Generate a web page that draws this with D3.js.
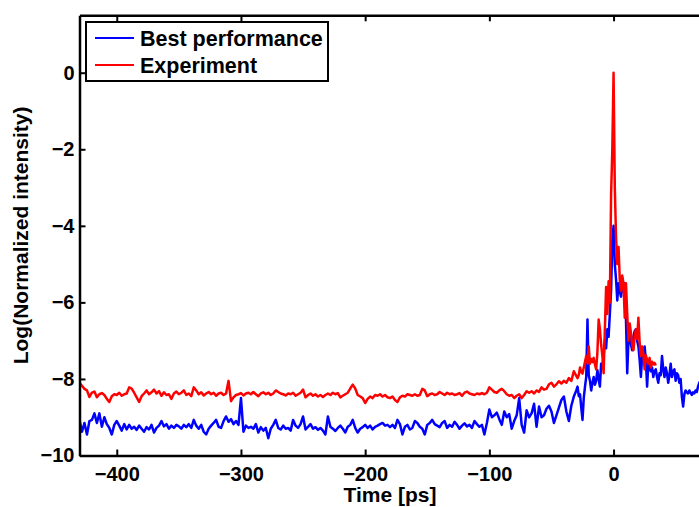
<!DOCTYPE html>
<html>
<head>
<meta charset="utf-8">
<script src="https://cdn.jsdelivr.net/npm/d3@7/dist/d3.min.js"></script>

<style>

  body, html {
    padding: 0;
    margin: 0;
    background: #fff;
  }

  svg {
    display: block;
    font-family: "Liberation Sans", Arial, Helvetica, sans-serif;
    font-weight: bold;
  }

</style>
</head>

<body>
  <svg width="699" height="507"></svg>

  <script>

    // sampling grids: 2 ps far from the pulse, 1 ps around it
    var coarseStart = -430, coarseStep = 2,
        fineStart = -30, fineStep = 1;

    var xTicks = [-400, -300, -200, -100, 0],
        yTicks = [-10, -8, -6, -4, -2, 0];

    // Best performance (blue), t = -430 .. -32
    var bestCoarse = [
      -9.07, -9.38, -9.15, -9.45, -9.10, -9.07, -8.90, -9.15, -8.90, -9.25,
      -9.00, -9.18, -9.28, -9.45, -9.20, -9.10, -9.22, -9.35, -9.18, -9.32,
      -9.20, -9.30, -9.25, -9.33, -9.22, -9.30, -9.38, -9.26, -9.32, -9.20,
      -9.40, -9.28, -9.22, -9.10, -9.24, -9.18, -9.30, -9.22, -9.28, -9.20,
      -9.24, -9.30, -9.20, -9.26, -9.18, -9.28, -9.07, -9.22, -9.30, -9.20,
      -9.38, -9.45, -9.30, -9.22, -9.15, -9.07, -9.25, -9.28, -9.10, -8.98,
      -9.12, -9.05, -9.18, -9.10, -9.20, -8.50, -9.38, -9.22, -9.28, -9.25,
      -9.30, -9.18, -9.40, -9.26, -9.35, -9.28, -9.55, -9.30, -9.20, -9.07,
      -9.28, -9.32, -9.22, -9.30, -9.28, -9.35, -9.07, -9.22, -9.28, -9.18,
      -8.98, -9.32, -9.25, -9.18, -9.30, -9.26, -9.33, -9.28, -9.35, -9.45,
      -8.98, -9.25, -9.30, -9.36, -9.28, -9.22, -9.30, -9.40, -9.25, -9.20,
      -9.07, -9.28, -9.40, -9.30, -9.26, -9.20, -9.28, -9.22, -9.32, -9.25,
      -9.22, -9.18, -9.15, -9.22, -9.20, -9.26, -9.20, -9.28, -9.07, -9.18,
      -9.45, -9.25, -9.20, -9.32, -9.28, -9.10, -9.15, -9.25, -9.30, -9.45,
      -9.20, -9.15, -9.07, -9.18, -9.22, -9.26, -9.15, -9.10, -9.28, -9.20,
      -9.25, -9.12, -9.20, -9.30, -9.22, -9.16, -9.24, -9.20, -9.28, -9.10,
      -9.18, -9.25, -9.20, -9.45, -9.15, -8.80, -9.00, -8.95, -8.88, -9.05,
      -9.20, -8.85, -9.00, -8.92, -9.30, -9.10, -8.95, -8.50, -9.20, -9.40,
      -8.82, -9.00, -8.90, -8.65, -9.25, -8.72, -9.00, -8.95, -8.78, -8.70,
      -8.85, -9.15, -8.95, -8.75, -8.55, -8.46, -8.85, -9.10, -8.70, -8.46
    ];

    // Best performance (blue), t = -30 .. 70
    var bestFine = [
      -8.30, -8.20, -8.45, -8.40, -8.75, -9.07, -8.50, -8.20, -7.95, -6.45,
      -7.90, -8.05, -8.30, -8.10, -7.95, -8.15, -8.05, -7.77, -8.00, -8.20,
      -7.60, -7.70, -7.40, -6.98, -7.20, -6.70, -6.90, -6.30, -5.70, -4.40,
      -4.00,
      -5.00, -5.40, -5.95, -5.50, -5.70, -5.85, -5.60, -5.70, -5.50, -6.45,
      -7.85, -6.98, -6.70, -7.10, -7.25, -6.90, -6.75, -6.70, -7.00, -7.15,
      -7.50, -7.95, -7.40, -7.30, -7.15, -7.50, -8.20, -7.60, -7.70, -7.80,
      -7.70, -7.95, -7.80, -7.75, -7.95, -8.10, -7.85, -7.90, -7.40, -7.75,
      -7.95, -7.70, -7.85, -8.10, -7.90, -7.60, -7.95, -7.80, -7.75, -8.05,
      -7.85, -7.90, -8.10, -8.00, -8.46, -8.72, -8.40, -8.30, -8.35, -8.38,
      -8.30, -8.36, -8.42, -8.35, -8.38, -8.30, -8.34, -8.20, -8.10, -8.05
    ];

    // Experiment (red), t = -430 .. -32
    var expCoarse = [
      -8.10, -8.18, -8.26, -8.30, -8.47, -8.36, -8.33, -8.48, -8.40, -8.37,
      -8.42, -8.52, -8.60, -8.45, -8.40, -8.42, -8.36, -8.44, -8.40, -8.38,
      -8.22, -8.25, -8.36, -8.48, -8.60, -8.45, -8.38, -8.30, -8.40, -8.35,
      -8.28, -8.38, -8.32, -8.44, -8.35, -8.42, -8.40, -8.52, -8.38, -8.33,
      -8.40, -8.36, -8.30, -8.42, -8.38, -8.45, -8.22, -8.30, -8.40, -8.35,
      -8.43, -8.38, -8.34, -8.40, -8.36, -8.44, -8.38, -8.36, -8.42, -8.38,
      -8.05, -8.58, -8.48, -8.42, -8.40, -8.37, -8.43, -8.38, -8.36, -8.40,
      -8.34, -8.40, -8.45, -8.38, -8.35, -8.40, -8.36, -8.42, -8.38, -8.30,
      -8.34, -8.38, -8.40, -8.43, -8.38, -8.40, -8.36, -8.44, -8.40, -8.36,
      -8.28, -8.48, -8.42, -8.38, -8.44, -8.40, -8.46, -8.42, -8.47, -8.42,
      -8.38, -8.42, -8.36, -8.40, -8.37, -8.48, -8.44, -8.40, -8.36, -8.25,
      -8.15, -8.25, -8.42, -8.46, -8.50, -8.63, -8.52, -8.46, -8.50, -8.42,
      -8.44, -8.40, -8.46, -8.42, -8.48, -8.50, -8.46, -8.55, -8.60, -8.48,
      -8.44, -8.46, -8.40, -8.42, -8.44, -8.40, -8.44, -8.42, -8.26, -8.30,
      -8.45, -8.40, -8.38, -8.42, -8.40, -8.34, -8.38, -8.42, -8.36, -8.40,
      -8.38, -8.42, -8.40, -8.37, -8.44, -8.36, -8.33, -8.38, -8.40, -8.42,
      -8.38, -8.40, -8.37, -8.40, -8.36, -8.22, -8.28, -8.34, -8.36, -8.30,
      -8.26, -8.32, -8.40, -8.44, -8.42, -8.50, -8.44, -8.40, -8.50, -8.42,
      -8.32, -8.36, -8.32, -8.38, -8.30, -8.34, -8.22, -8.28, -8.26, -8.14,
      -8.10, -8.20, -8.14, -8.06, -8.12, -8.05, -8.10, -7.98, -8.05, -7.80
    ];

    // Experiment (red), t = -30 .. 34
    var expFine = [
      -7.92, -7.98, -7.90, -7.70, -7.82, -7.86, -7.70, -7.55, -7.40, -7.60,
      -7.15, -7.60, -7.48, -7.56, -7.45, -7.62, -7.75, -7.30, -6.45, -6.70,
      -7.10, -7.40, -7.85, -6.70, -5.60, -6.30, -5.45, -6.00, -3.20, -2.00,
      0.00,
      -3.00, -4.30, -5.00, -4.55, -5.40, -5.70, -5.30, -5.50, -6.40, -5.50,
      -6.30, -7.00, -6.55, -6.80, -7.10, -7.25, -6.90, -6.70, -6.95, -6.40,
      -7.05, -7.40, -7.15, -7.35, -7.75, -7.38, -7.50, -7.60, -7.45, -7.70,
      -7.55, -7.62, -7.58, -7.65
    ];

    var series = [
      { name: 'Best performance', color: '#0000ff', coarse: bestCoarse, fine: bestFine },
      { name: 'Experiment', color: '#ff0000', coarse: expCoarse, fine: expFine }
    ];

    function toPoints(s) {
      var pts = s.coarse.map(function (v, i) { return [coarseStart + i * coarseStep, v]; });
      s.fine.forEach(function (v, i) { pts.push([fineStart + i * fineStep, v]); });
      return pts;
    }

    var x = d3.scaleLinear().domain([-430, 70]).range([79.5, 700.5]),
        y = d3.scaleLinear().domain([-10, 1.5]).range([455.5, 15.3]);

    var svg = d3.select('svg');

    svg.append('defs').append('clipPath').attr('id', 'plot-clip')
      .append('rect')
        .attr('x', x.range()[0]).attr('y', y.range()[1])
        .attr('width', x.range()[1] - x.range()[0])
        .attr('height', y.range()[0] - y.range()[1]);

    var line = d3.line()
      .x(function (d) { return x(d[0]); })
      .y(function (d) { return y(d[1]); });

    svg.append('g').attr('clip-path', 'url(#plot-clip)')
      .selectAll('path')
      .data(series)
      .enter().append('path')
        .attr('d', function (d) { return line(toPoints(d)); })
        .attr('fill', 'none')
        .attr('stroke', function (d) { return d.color; })
        .attr('stroke-width', 2.5)
        .attr('stroke-linejoin', 'round');

    // box axes, matlab style: ticks point inward (right side is off the page)
    var xAxis = d3.axisBottom(x).tickValues(xTicks).tickSizeInner(-6).tickSizeOuter(0).tickPadding(11),
        xTop = d3.axisTop(x).tickValues(xTicks).tickSizeInner(-6).tickSizeOuter(0).tickFormat(''),
        yAxis = d3.axisLeft(y).tickValues(yTicks).tickSizeInner(-6).tickSizeOuter(0).tickPadding(5);

    svg.append('g').attr('class', 'axis').attr('transform', 'translate(0,' + y.range()[0] + ')').call(xAxis);
    svg.append('g').attr('class', 'axis').attr('transform', 'translate(0,' + y.range()[1] + ')').call(xTop);
    svg.append('g').attr('class', 'axis').attr('transform', 'translate(' + x.range()[0] + ',0)').call(yAxis);

    svg.selectAll('.axis .domain').attr('stroke', '#000').attr('stroke-width', 2.5);
    svg.selectAll('.axis .tick line').attr('stroke', '#000').attr('stroke-width', 2);
    svg.selectAll('.axis text')
      .attr('fill', '#000')
      .style('font-family', '"Liberation Sans", Arial, sans-serif')
      .style('font-weight', 'bold')
      .style('font-size', '20px');

    svg.append('text')
      .attr('x', (x.range()[0] + x.range()[1]) / 2)
      .attr('y', 502)
      .attr('text-anchor', 'middle')
      .style('font-size', '21px')
      .text('Time [ps]');

    svg.append('text')
      .attr('transform', 'translate(28,' + (y.range()[0] + y.range()[1]) / 2 + ') rotate(-90)')
      .attr('text-anchor', 'middle')
      .style('font-size', '21px')
      .text('Log(Normalized intensity)');

    // legend
    var legend = svg.append('g');

    legend.append('rect')
      .attr('x', 86).attr('y', 22)
      .attr('width', 242).attr('height', 59)
      .attr('fill', '#fff')
      .attr('stroke', '#000')
      .attr('stroke-width', 2);

    var item = legend.selectAll('g.item')
      .data(series)
      .enter().append('g')
        .attr('class', 'item')
        .attr('transform', function (d, i) { return 'translate(0,' + (38 + i * 27) + ')'; });

    item.append('line')
      .attr('x1', 95).attr('x2', 134)
      .attr('stroke', function (d) { return d.color; })
      .attr('stroke-width', 2);

    item.append('text')
      .attr('x', 140)
      .attr('y', 8)
      .style('font-size', '21.5px')
      .text(function (d) { return d.name; });

  </script>
</body>
</html>
